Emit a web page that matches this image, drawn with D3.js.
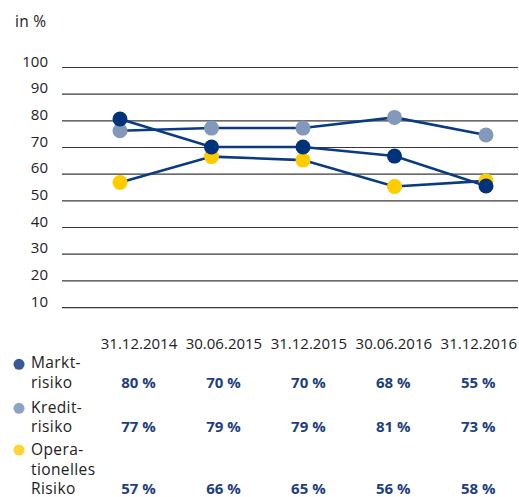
<!DOCTYPE html>
<head>
  <meta charset="utf-8">
  <script src="https://d3js.org/d3.v7.min.js"></script>
  <style>
    body { margin: 0; background: #fff; }
    svg { display: block; font-family: "Open Sans", "Noto Sans", sans-serif; }
  </style>
</head>
<body>
<script type='text/javascript'>

  var dates = ["31.12.2014", "30.06.2015", "31.12.2015", "30.06.2016", "31.12.2016"];
  var yTicks = [10, 20, 30, 40, 50, 60, 70, 80, 90, 100];

  // plotted positions
  var markt = [80.5, 70, 70, 66.6, 55.4];
  var kredit = [76.1, 77.1, 77.1, 81.1, 74.5];
  var oper = [56.7, 66.4, 65.1, 55.2, 57.3];

  // table labels
  var marktLabels = ["80 %", "70 %", "70 %", "68 %", "55 %"];
  var kreditLabels = ["77 %", "79 %", "79 %", "81 %", "73 %"];
  var operLabels = ["57 %", "66 %", "65 %", "56 %", "58 %"];

  // drawn bottom to top: Markt ends up on top
  var series = [
    { values: oper, color: "#ffcc00" },
    { values: kredit, color: "#8399bb" },
    { values: markt, color: "#00337a" }
  ];

  var width = 519, height = 497;

  var svg = d3.select('body').append('svg')
    .attr('width', width)
    .attr('height', height);

  var x = d3.scalePoint().domain(dates).range([120, 486]);
  var xTable = d3.scalePoint().domain(dates).range([138.5, 478.3]);
  var y = d3.scaleLinear().domain([0, 100]).range([333.7, 67]);

  // "in %"
  svg.append('text')
    .attr('x', 15).attr('y', 27)
    .attr('font-size', 15.5).attr('fill', '#222')
    .attr('letter-spacing', 0.3)
    .text('in %');

  // grid + y labels
  var yAxis = d3.axisLeft(y)
    .tickValues(yTicks)
    .tickSize(-(518 - 62))
    .tickPadding(14);

  var gy = svg.append('g')
    .attr('transform', 'translate(62,0)')
    .call(yAxis);
  gy.select('.domain').remove();
  gy.selectAll('.tick line').attr('stroke', '#3a3a3a').attr('stroke-width', 1.2);
  gy.selectAll('.tick text')
    .attr('font-size', 15)
    .attr('fill', '#222')
    .attr('font-family', '"Open Sans", sans-serif')
    .attr('dy', '-0.05em');

  // lines
  var line = d3.line()
    .x(function(d, i) { return x(dates[i]); })
    .y(function(d) { return y(d); });

  series.forEach(function(s) {
    svg.append('path')
      .datum(s.values)
      .attr('d', line)
      .attr('fill', 'none')
      .attr('stroke', '#0a3b80')
      .attr('stroke-width', 2.6);
  });

  series.forEach(function(s) {
    svg.append('g').selectAll('circle')
      .data(s.values)
      .join('circle')
      .attr('cx', function(d, i) { return x(dates[i]); })
      .attr('cy', function(d) { return y(d); })
      .attr('r', 7.5)
      .attr('fill', s.color);
  });

  // date labels
  var xAxis = d3.axisBottom(xTable).tickSize(0).tickPadding(0);
  var gx = svg.append('g')
    .attr('transform', 'translate(0,338)')
    .call(xAxis);
  gx.select('.domain').remove();
  gx.selectAll('.tick text')
    .attr('font-size', 15)
    .attr('fill', '#222')
    .attr('font-family', '"Open Sans", sans-serif');

  // legend + table
  var legendRows = [
    { text: ["Markt-", "risiko"], dotY: 364.3, baseY: 368, labels: marktLabels, color: "#365b94" },
    { text: ["Kredit-", "risiko"], dotY: 408.3, baseY: 412.5, labels: kreditLabels, color: "#8ea3c4" },
    { text: ["Opera-", "tionelles", "Risiko"], dotY: 450, baseY: 455, labels: operLabels, color: "#ffd433" }
  ];

  legendRows.forEach(function(r) {
    svg.append('circle')
      .attr('cx', 19).attr('cy', r.dotY).attr('r', 5.5)
      .attr('fill', r.color);
    var t = svg.append('text')
      .attr('x', 31).attr('y', r.baseY)
      .attr('font-size', 15.5).attr('fill', '#222')
      .attr('letter-spacing', 0.4);
    r.text.forEach(function(w, i) {
      t.append('tspan').attr('x', 31).attr('dy', i === 0 ? 0 : 19.5).text(w);
    });
    var valY = r.baseY + 19.5 * (r.text.length - 1);
    svg.append('g').selectAll('text')
      .data(r.labels)
      .join('text')
      .attr('x', function(d, i) { return xTable(dates[i]); })
      .attr('y', valY)
      .attr('text-anchor', 'middle')
      .attr('font-size', 15)
      .attr('font-weight', 'bold')
      .attr('fill', '#1d3f7e')
      .text(function(d) { return d; });
  });

</script>
</body>
